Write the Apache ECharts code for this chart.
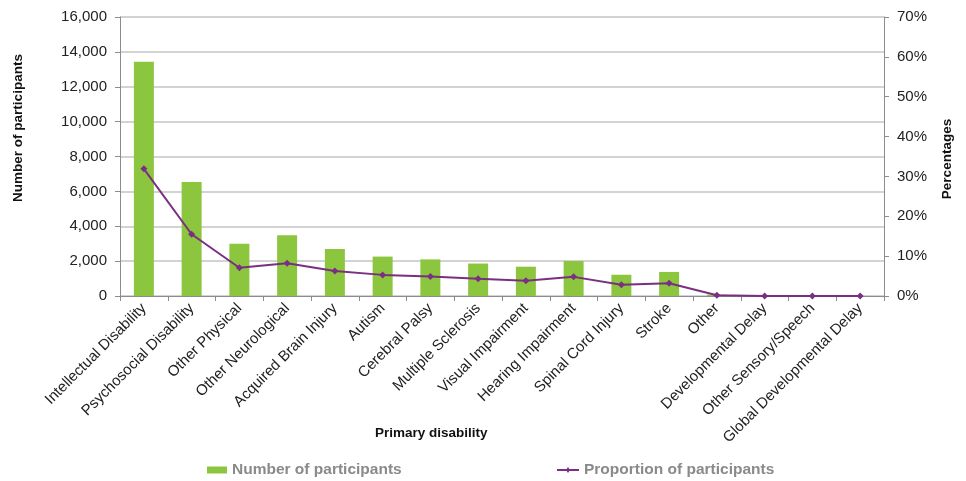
<!DOCTYPE html>
<html>
<head>
<meta charset="utf-8">
<script src="https://cdn.jsdelivr.net/npm/echarts@6/dist/echarts.min.js"></script>
<style>
html,body{margin:0;padding:0;background:#fff;}
#chart{width:966px;height:481px;}
</style>
</head>
<body>
<div id="chart"></div>
<script>
var categories = ['Intellectual Disability','Psychosocial Disability','Other Physical','Other Neurological','Acquired Brain Injury','Autism','Cerebral Palsy','Multiple Sclerosis','Visual Impairment','Hearing Impairment','Spinal Cord Injury','Stroke','Other','Developmental Delay','Other Sensory/Speech','Global Developmental Delay'];
var participants = [13440, 6540, 3000, 3480, 2700, 2260, 2100, 1860, 1680, 2010, 1220, 1380, 80, 10, 6, 2];
var proportion = [31.9, 15.5, 7.1, 8.2, 6.3, 5.3, 4.9, 4.3, 3.8, 4.8, 2.8, 3.2, 0.2, 0.02, 0.01, 0.005];
var leftTicks = [0, 2000, 16000];
var rightTicks = [0, 10, 70];

var chart = echarts.init(document.getElementById('chart'));
var FONT = '"Liberation Sans", Arial, sans-serif';
chart.setOption({
  animation: false,
  textStyle: {fontFamily: FONT},
  grid: {left: 120, right: 82, top: 17, bottom: 185, containLabel: false},
  legend: [
    {data: [{name: 'Number of participants', icon: 'rect'}], left: 202, top: 457, itemWidth: 20, itemHeight: 7, itemGap: 3,
     textStyle: {color: '#8a8a8a', fontWeight: 'bold', fontSize: 15.5, fontFamily: FONT}},
    {data: [{name: 'Proportion of participants', icon: 'path://M0,4 L22,4 L22,6 L0,6 Z M11,2 L13,5 L11,8 L9,5 Z'}], left: 552, top: 457, itemWidth: 22, itemHeight: 9, itemGap: 2,
     textStyle: {color: '#8a8a8a', fontWeight: 'bold', fontSize: 15.5, fontFamily: FONT}}
  ],
  xAxis: {
    type: 'category', data: categories, boundaryGap: true,
    axisLine: {lineStyle: {color: '#8c8c8c', width: 1}},
    axisTick: {show: true, alignWithLabel: false, length: 5, lineStyle: {color: '#8c8c8c'}},
    axisLabel: {rotate: 45, interval: 0, fontSize: 15, color: '#222', margin: 10, fontFamily: FONT}
  },
  yAxis: [
    {type: 'value', min: leftTicks[0], max: leftTicks[2], interval: leftTicks[1], position: 'left',
     axisLine: {show: true, lineStyle: {color: '#8c8c8c'}},
     axisTick: {show: true, length: 5, lineStyle: {color: '#8c8c8c'}},
     axisLabel: {fontSize: 15, color: '#222', margin: 13, fontFamily: FONT, formatter: function(v){return v.toLocaleString('en-US');}},
     splitLine: {show: true, lineStyle: {color: '#c4c4c4', width: 1.5}}},
    {type: 'value', min: rightTicks[0], max: rightTicks[2], interval: rightTicks[1], position: 'right',
     axisLine: {show: true, lineStyle: {color: '#8c8c8c'}},
     axisTick: {show: true, length: 5, lineStyle: {color: '#8c8c8c'}},
     axisLabel: {fontSize: 15, color: '#222', margin: 13, fontFamily: FONT, formatter: '{value}%'},
     splitLine: {show: false}}
  ],
  graphic: [
    {type: 'text', left: 375, top: 426, style: {text: 'Primary disability', font: 'bold 13.5px ' + FONT, fill: '#111'}},
    {type: 'text', x: 18, y: 128, rotation: Math.PI/2, style: {text: 'Number of participants', font: 'bold 13.5px ' + FONT, fill: '#111', textAlign: 'center', textVerticalAlign: 'middle'}},
    {type: 'text', x: 947, y: 159, rotation: Math.PI/2, style: {text: 'Percentages', font: 'bold 13.5px ' + FONT, fill: '#111', textAlign: 'center', textVerticalAlign: 'middle'}}
  ],
  series: [
    {name: 'Number of participants', type: 'bar', data: participants, barWidth: 20, yAxisIndex: 0,
     itemStyle: {color: '#8cc63f'}},
    {name: 'Proportion of participants', type: 'line', data: proportion, yAxisIndex: 1,
     symbol: 'diamond', symbolSize: 7, lineStyle: {color: '#7a2f83', width: 2}, itemStyle: {color: '#7a2f83'}}
  ]
});
</script>
</body>
</html>
